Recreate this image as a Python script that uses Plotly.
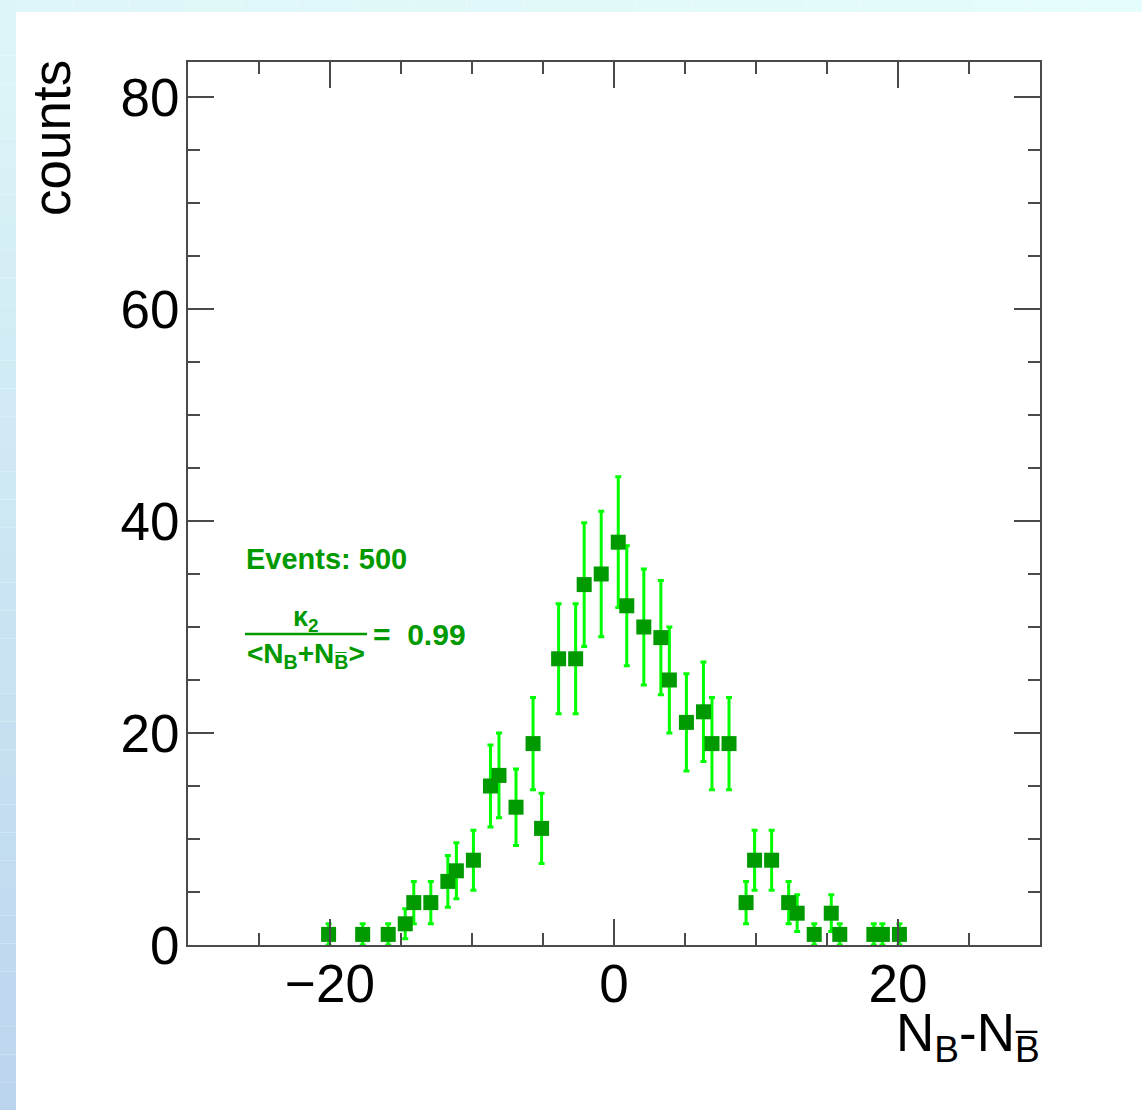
import numpy as np
import plotly.graph_objects as go

# Net-baryon distribution: bin centres (bin width 0.6) and entries
net_baryon = [-20.1, -17.7, -15.9, -14.7, -14.1, -12.9, -11.7, -11.1, -9.9, -8.7,
              -8.1, -6.9, -5.7, -5.1, -3.9, -2.7, -2.1, -0.9, 0.3, 0.9,
              2.1, 3.3, 3.9, 5.1, 6.3, 6.9, 8.1, 9.3, 9.9, 11.1,
              12.3, 12.9, 14.1, 15.3, 15.9, 18.3, 18.9, 20.1]
counts = [1, 1, 1, 2, 4, 4, 6, 7, 8, 15,
          16, 13, 19, 11, 27, 27, 34, 35, 38, 32,
          30, 29, 25, 21, 22, 19, 19, 4, 8, 8,
          4, 3, 1, 3, 1, 1, 1, 1]
# Poisson uncertainties of the histogram entries
errors = np.sqrt(np.array(counts, dtype=float))

n_events = 500
kappa_ratio = 0.99

W, H = 1142, 1110
L, R, T, B = 188, 1040, 62, 945  # plot frame in pixels
FONT = "Liberation Sans, Arial, Helvetica, sans-serif"
DARK_GREEN = "#009900"
LIGHT_GREEN = "#00ff00"
FRAME = "#4a4a4a"


def px(x):
    return (x - L) / (R - L)


def py(y):
    return (B - y) / (B - T)


fig = go.Figure()
fig.add_trace(go.Scatter(
    x=net_baryon, y=counts, mode="markers",
    marker=dict(symbol="square", size=15, color=DARK_GREEN, line=dict(width=0)),
    error_y=dict(type="data", array=errors, visible=True,
                 color=LIGHT_GREEN, thickness=3, width=3),
    showlegend=False,
))

shapes = []
# Canvas border strip: vertical gradient on the left, light cyan band on top
n_seg = 40
c_top = np.array([0xdd, 0xf7, 0xf9])
c_bot = np.array([0xbc, 0xd5, 0xee])
for i in range(n_seg):
    y0 = i * H / n_seg
    y1 = (i + 1) * H / n_seg
    c = c_top + (c_bot - c_top) * (i + 0.5) / n_seg
    shapes.append(dict(type="rect", xref="paper", yref="paper",
                       x0=px(0), x1=px(16), y0=py(y1), y1=py(y0),
                       fillcolor="rgb(%d,%d,%d)" % tuple(c.astype(int)),
                       line=dict(width=0), layer="below"))
n_seg_x = 20
c_l = np.array([0xdf, 0xf6, 0xf8])
c_r = np.array([0xe6, 0xfd, 0xfd])
for i in range(n_seg_x):
    x0 = 16 + i * (W - 16) / n_seg_x
    x1 = 16 + (i + 1) * (W - 16) / n_seg_x
    c = c_l + (c_r - c_l) * (i + 0.5) / n_seg_x
    shapes.append(dict(type="rect", xref="paper", yref="paper",
                       x0=px(x0), x1=px(x1), y0=py(12), y1=py(0),
                       fillcolor="rgb(%d,%d,%d)" % tuple(c.astype(int)),
                       line=dict(width=0), layer="below"))

# Fraction bar of the cumulant ratio
shapes.append(dict(type="line", xref="paper", yref="paper",
                   x0=px(245), x1=px(367), y0=py(634), y1=py(634),
                   line=dict(color=DARK_GREEN, width=2.5)))

annotations = [
    dict(text="counts", textangle=-90, xref="paper", yref="paper",
         x=px(52), y=py(58), xanchor="center", yanchor="top", showarrow=False,
         font=dict(family=FONT, size=53, color="black")),
    dict(text="N<sub>B</sub>-N<sub>B\u0305</sub>", xref="paper", yref="paper",
         x=px(1042), y=py(1036), xanchor="right", yanchor="middle", showarrow=False,
         font=dict(family=FONT, size=53, color="black")),
    dict(text="<b>Events: %d</b>" % n_events, xref="paper", yref="paper",
         x=px(244), y=py(559), xanchor="left", yanchor="middle", showarrow=False,
         font=dict(family=FONT, size=29, color=DARK_GREEN)),
    dict(text="<b>\u03ba<sub>2</sub></b>", xref="paper", yref="paper",
         x=px(306), y=py(619), xanchor="center", yanchor="middle", showarrow=False,
         font=dict(family=FONT, size=27, color=DARK_GREEN)),
    dict(text="<b>&lt;N<sub>B</sub>+N<sub>B\u0305</sub>&gt;</b>", xref="paper", yref="paper",
         x=px(306), y=py(655), xanchor="center", yanchor="middle", showarrow=False,
         font=dict(family=FONT, size=28, color=DARK_GREEN)),
    dict(text="<b>=  %.2f</b>" % kappa_ratio, xref="paper", yref="paper",
         x=px(371), y=py(634), xanchor="left", yanchor="middle", showarrow=False,
         font=dict(family=FONT, size=30, color=DARK_GREEN)),
]

axis_common = dict(
    showline=True, linecolor=FRAME, linewidth=2, mirror="ticks",
    ticks="inside", ticklen=26, tickwidth=1.5, tickcolor=FRAME,
    showgrid=False, zeroline=False,
    tickfont=dict(family=FONT, size=53, color="black"),
)

fig.update_layout(
    width=W, height=H,
    margin=dict(l=L, r=W - R, t=T, b=H - B, pad=0),
    paper_bgcolor="white", plot_bgcolor="white",
    xaxis=dict(range=[-30, 30], tickmode="array", tickvals=[-20, 0, 20],
               minor=dict(dtick=5, tick0=0, ticks="inside", ticklen=12,
                          tickwidth=1.5, tickcolor=FRAME, showgrid=False),
               ticklabelstandoff=-9, **axis_common),
    yaxis=dict(range=[0, 83.3], tickmode="array", tickvals=[0, 20, 40, 60, 80],
               minor=dict(dtick=5, tick0=0, ticks="inside", ticklen=12,
                          tickwidth=1.5, tickcolor=FRAME, showgrid=False),
               ticklabelstandoff=-4, **axis_common),
    shapes=shapes,
    annotations=annotations,
    font=dict(family=FONT),
)

fig.write_html("out.html")
